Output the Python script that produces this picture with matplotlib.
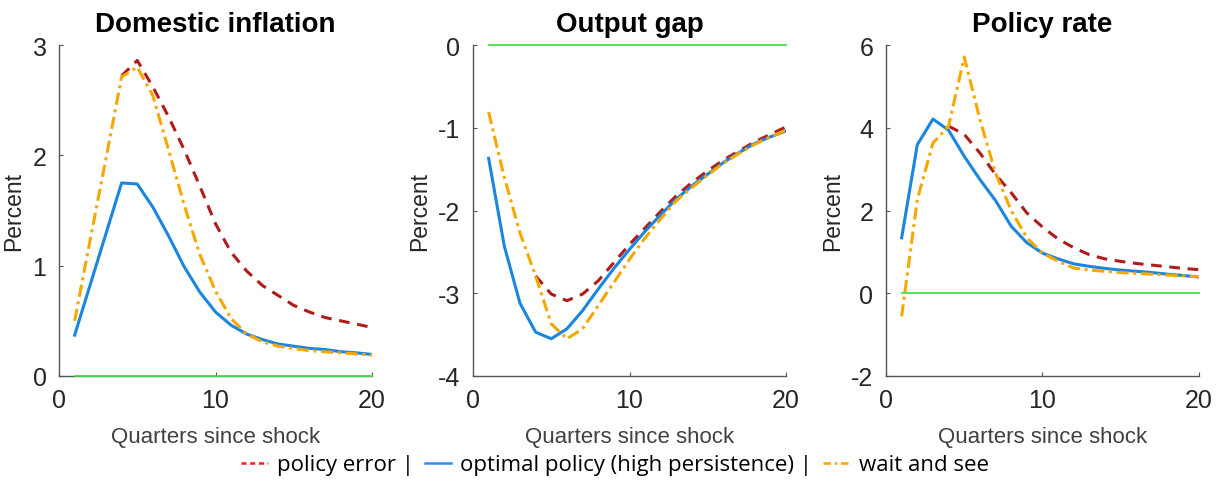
import numpy as np
import matplotlib.pyplot as plt
from matplotlib.lines import Line2D

quarters = np.arange(1, 21)
nan = np.nan

# domestic inflation (policy error path only drawn from quarter 4)
infl_error = [nan, nan, nan, 2.72, 2.86, 2.62, 2.35, 2.05, 1.72, 1.38, 1.12, 0.95,
              0.82, 0.73, 0.64, 0.58, 0.53, 0.50, 0.47, 0.44]
infl_optimal = [0.37, 0.83, 1.29, 1.75, 1.74, 1.53, 1.27, 0.99, 0.76, 0.58, 0.46, 0.38,
                0.33, 0.29, 0.27, 0.25, 0.24, 0.22, 0.21, 0.195]
infl_wait = [0.50, 1.24, 1.97, 2.71, 2.80, 2.54, 2.05, 1.55, 1.10, 0.77, 0.52, 0.38,
             0.31, 0.27, 0.25, 0.23, 0.22, 0.21, 0.20, 0.19]

# output gap
gap_error = [nan, nan, nan, -2.79, -3.01, -3.09, -3.01, -2.85, -2.63, -2.41, -2.21, -2.01,
             -1.82, -1.66, -1.52, -1.39, -1.28, -1.17, -1.08, -0.99]
gap_optimal = [-1.37, -2.43, -3.12, -3.47, -3.55, -3.43, -3.21, -2.95, -2.70, -2.47, -2.25, -2.05,
               -1.86, -1.70, -1.56, -1.42, -1.30, -1.19, -1.11, -1.04]
gap_wait = [-0.81, -1.60, -2.27, -2.79, -3.37, -3.55, -3.43, -3.15, -2.87, -2.59, -2.33, -2.10,
            -1.88, -1.72, -1.57, -1.43, -1.31, -1.20, -1.11, -1.03]

# policy rate
rate_error = [nan, nan, nan, 4.04, 3.84, 3.39, 2.87, 2.43, 1.94, 1.60, 1.31, 1.10,
              0.93, 0.83, 0.77, 0.72, 0.68, 0.64, 0.60, 0.57]
rate_optimal = [1.34, 3.59, 4.21, 3.94, 3.31, 2.75, 2.24, 1.62, 1.22, 0.97, 0.83, 0.71,
                0.65, 0.60, 0.56, 0.53, 0.50, 0.46, 0.43, 0.39]
rate_wait = [-0.56, 2.26, 3.63, 4.04, 5.71, 4.20, 2.90, 2.00, 1.34, 0.97, 0.77, 0.61,
             0.56, 0.53, 0.50, 0.48, 0.46, 0.44, 0.42, 0.40]

titles = ["Domestic inflation", "Output gap", "Policy rate"]
ylims = [(0, 3), (-4, 0), (-2, 6)]
yticks = [[0, 1, 2, 3], [-4, -3, -2, -1, 0], [-2, 0, 2, 4, 6]]
series = [(infl_error, infl_optimal, infl_wait),
          (gap_error, gap_optimal, gap_wait),
          (rate_error, rate_optimal, rate_wait)]

RED = "#b01c1c"
BLUE = "#1a86e0"
ORANGE = "#f5a800"
GREEN = "#44e044"
GRAY = "#262626"

plt.rcParams['font.family'] = ['Liberation Sans', 'DejaVu Sans']
plt.rcParams['axes.unicode_minus'] = False

W, H = 1217, 485
fig = plt.figure(figsize=(W / 100, H / 100), dpi=100)

lefts = [59, 473, 886]
width = 313
top, bottom = 46, 377

for i in range(3):
    ax = fig.add_axes([lefts[i] / W, 1 - bottom / H, width / W, (bottom - top) / H])
    err, opt, wait = series[i]
    ax.plot(quarters, np.zeros(len(quarters)), color=GREEN, lw=1.3, zorder=5, clip_on=False)
    ax.plot(quarters, err, color=RED, lw=2.2, ls=(0, (3.5, 2.5)), zorder=2)
    ax.plot(quarters, opt, color=BLUE, lw=2.2, zorder=3)
    ax.plot(quarters, wait, color=ORANGE, lw=2.2, ls=(0, (4, 1.5, 1, 1.5)), zorder=4)
    ax.set_xlim(0, 20)
    ax.set_ylim(*ylims[i])
    ax.set_xticks([0, 10, 20])
    ax.set_yticks(yticks[i])
    ax.spines['top'].set_visible(False)
    ax.spines['right'].set_visible(False)
    for s in ('left', 'bottom'):
        ax.spines[s].set_color('#555555')
        ax.spines[s].set_linewidth(1.0)
    ax.tick_params(direction='in', length=3, width=0.8, color='#555555',
                   labelsize=18, labelcolor=GRAY, pad=9)
    ax.set_title(titles[i], fontsize=20, fontweight='bold', pad=10)
    ax.set_ylabel("Percent", fontsize=16.5, color=GRAY, labelpad=5)
    ax.set_xlabel("Quarters since shock", fontsize=16, color='#404040', labelpad=10)

handles = [Line2D([], [], color='#ff1a1a', lw=1.8, ls=(0, (2, 1.5))),
           Line2D([], [], color='#2f8fee', lw=1.8),
           Line2D([], [], color='#f5a800', lw=1.8, ls=(0, (3, 1.5, 1, 1.5)))]
labels = ["policy error |", "optimal policy (high persistence) |", "wait and see"]
fig.legend(handles, labels, loc='center', bbox_to_anchor=(615 / W, 1 - 466 / H), ncol=3,
           frameon=False, handlelength=1.2, handletextpad=0.4, columnspacing=0.5,
           prop={'family': 'Open Sans', 'size': 16})

fig.savefig("out.png", dpi=100, facecolor='white')
